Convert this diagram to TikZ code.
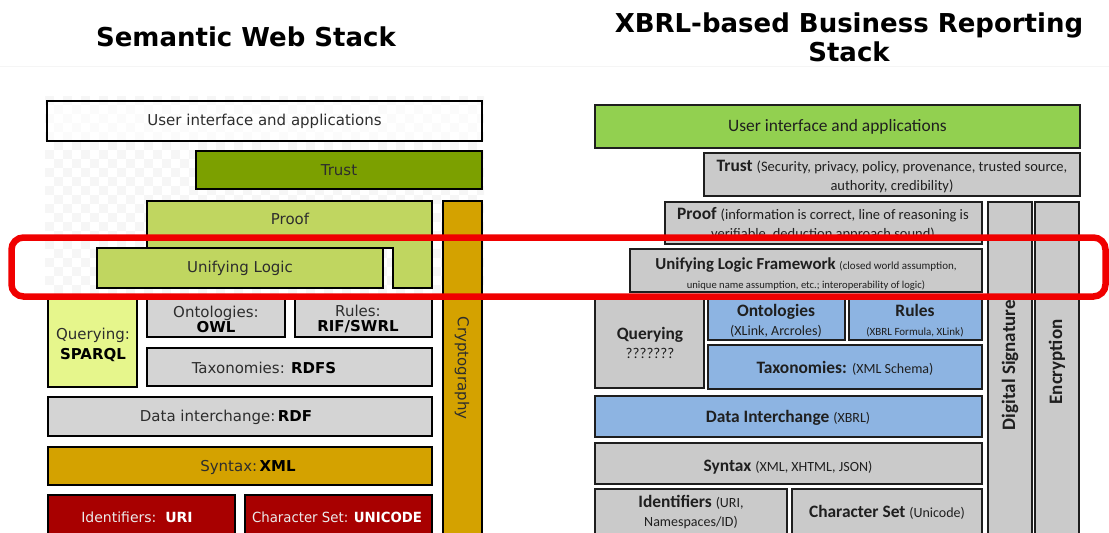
\documentclass[tikz,border=0pt]{standalone}
\usepackage{fontspec}
\setmainfont{DejaVu Sans}
\newfontfamily\calfont{Carlito}
\definecolor{trustgreen}{RGB}{124,160,0}
\definecolor{proofgreen}{RGB}{192,214,96}
\definecolor{queryyellow}{RGB}{230,246,140}
\definecolor{lgray}{RGB}{212,212,212}
\definecolor{gold}{RGB}{212,162,0}
\definecolor{dred}{RGB}{168,0,0}
\definecolor{uigreen}{RGB}{146,208,80}
\definecolor{rgray}{RGB}{202,202,202}
\definecolor{rblue}{RGB}{141,180,226}
\definecolor{redframe}{RGB}{240,0,0}
\definecolor{ltext}{RGB}{45,45,45}
\definecolor{rborder}{RGB}{30,30,30}
\newcommand\layer[6]{%
  \node[#6, anchor=north west, minimum width={(#4-#2)*1pt}, minimum height={(#5-#3)*1pt}] (#1) at (#2,#3) {};}
\newcommand\fs[2]{\fontsize{#1}{#2}\selectfont}
\tikzset{
  lbox/.style={draw=black, line width=2.8pt, inner sep=0pt, outer sep=0pt},
  rbox/.style={draw=rborder, line width=2.4pt, inner sep=0pt, outer sep=0pt},
  ltxt/.style={text=ltext, inner sep=0pt, font=\fs{15}{17}, align=center},
  rtxt/.style={text=black!88, inner sep=0pt, font=\calfont\fs{17.4}{19}, align=center},
  title/.style={inner sep=0pt, font=\bfseries\fs{26}{29}, align=center}
}
\begin{document}
\begin{tikzpicture}[x=1pt,y=-1pt]
\useasboundingbox (0,0) rectangle (1109,533);
\begin{scope}
\clip (0,0) rectangle (1109,533);
\draw[gray!8, line width=0.8pt] (0,66) -- (1109,66);
% titles
\node[title] (title1) at (246,37) {Semantic Web Stack};
\node[title] (title2) at (849,37.5) {XBRL-based Business Reporting\\Stack};
% checkered background (left)
\begin{scope}
\clip (45,96) rectangle (484,296);
\foreach \i in {0,...,24} {\foreach \j in {0,...,11} {
  \fill[gray!7] (45+18*\i,96+18*\j) rectangle ++(9,9);
  \fill[gray!7] (54+18*\i,105+18*\j) rectangle ++(9,9);
}}
\end{scope}
% ---------------- left stack ----------------
\layer{lui}{47}{101}{482}{141}{lbox, fill=white, fill opacity=0.6}
\layer{ltrust}{196}{151}{482}{189}{lbox, fill=trustgreen}
\draw[lbox, fill=proofgreen] (147,201) -- (432,201) -- (432,288) -- (393,288) -- (393,248) -- (147,248) -- cycle;
\coordinate (lproofc) at (290,219);
\layer{lunify}{97}{248}{383}{288}{lbox, fill=proofgreen}
\layer{lcrypto}{443}{201}{482}{545}{lbox, fill=gold}
\layer{lquery}{48}{298}{137}{387}{lbox, fill=queryyellow}
\layer{lonto}{147}{298}{285}{337}{lbox, fill=lgray}
\layer{lrules}{295}{298}{432}{337}{lbox, fill=lgray}
\layer{ltax}{147}{348}{432}{386}{lbox, fill=lgray}
\layer{lrdf}{48}{397}{432}{436}{lbox, fill=lgray}
\layer{lxml}{48}{447}{432}{485}{lbox, fill=gold}
\layer{luri}{48}{495}{235}{545}{lbox, fill=dred}
\layer{luni}{245}{495}{432}{545}{lbox, fill=dred}
\node[ltxt] (tlui) at (lui.center) {User interface and applications};
\node[ltxt] (tltrust) at (339,170) {Trust};
\node[ltxt] (tlproof) at (lproofc) {Proof};
\node[ltxt] (tlunify) at (240,268) {Unifying Logic};
\node[ltxt, font=\fs{15}{15}] (tlonto) at (216,319) {Ontologies:\\\textbf{\color{black}OWL}};
\node[ltxt, font=\fs{15}{15}] (tlrules) at (358,319) {Rules:\\\textbf{\color{black}RIF/SWRL}};
\node[ltxt, font=\fs{15}{20}] (tlquery) at (93,345) {Querying:\\\textbf{\color{black}SPARQL}};
\node[ltxt] (tltax) at (264,368) {Taxonomies: \textbf{\color{black}RDFS}};
\node[ltxt] (tlrdf) at (226,417) {Data interchange:\,\textbf{\color{black}RDF}};
\node[ltxt] (tlxml) at (248,467) {Syntax:\,\textbf{\color{black}XML}};
\node[ltxt, text=white!92!black, font=\fs{14}{16}] (tluri) at (137,517) {Identifiers:\ \ \textbf{\color{white}URI}};
\node[ltxt, text=white!92!black, font=\fs{14}{16}] (tluni) at (337,517) {\scalebox{0.95}[1]{Character Set: \textbf{\color{white}UNICODE}}};
\node[ltxt, rotate=-90] (tlcrypto) at (462,368) {Cryptography};
% ---------------- right stack ----------------
\layer{rui}{595}{105}{1080}{148}{rbox, fill=uigreen}
\layer{rtrust}{704}{153}{1080}{196}{rbox, fill=rgray}
\layer{rproof}{665}{202}{982}{244}{rbox, fill=rgray}
\layer{rsig}{988}{202}{1032}{545}{rbox, fill=rgray}
\layer{renc}{1035}{202}{1079}{545}{rbox, fill=rgray}
\layer{runify}{630}{249}{982}{292}{rbox, fill=rgray}
\layer{rquery}{595}{297}{704}{388}{rbox, fill=rgray}
\layer{ronto}{708}{297}{845}{340}{rbox, fill=rblue}
\layer{rrules}{849}{297}{982}{340}{rbox, fill=rblue}
\layer{rtax}{708}{345}{982}{389}{rbox, fill=rblue}
\layer{rdata}{595}{396}{982}{437}{rbox, fill=rblue}
\layer{rsyntax}{595}{443}{982}{484}{rbox, fill=rgray}
\layer{rid}{595}{489}{787}{545}{rbox, fill=rgray}
\layer{rchar}{792}{489}{982}{545}{rbox, fill=rgray}
\node[rtxt] (trui) at (rui.center) {User interface and applications};
\node[rtxt] (trtrust) at (892,176.5) {\fs{17.4}{21}\textbf{Trust} \fs{14.5}{21}(Security, privacy, policy, provenance, trusted source,\\\fs{14.5}{21}authority, credibility)};
\node[rtxt] (trproof) at (823,224) {\fs{17.4}{18}\textbf{Proof} \fs{14.5}{18}(information is correct, line of reasoning is\\\fs{14.5}{18}verifiable, deduction approach sound)};
\node[rtxt] (trunify) at (806,274) {\fs{16.8}{18}\textbf{Unifying Logic Framework} \fs{11}{18}(closed world assumption,\\\fs{10.6}{18}unique name assumption, etc.; interoperability of logic)};
\node[rtxt] (trquery) at (650,343) {\fs{17.4}{20}\textbf{Querying}\\\fs{15}{20}???????};
\node[rtxt] (tronto) at (776,321) {\fs{17.4}{18}\textbf{Ontologies}\\\fs{14}{18}(XLink, Arcroles)};
\node[rtxt] (trrules) at (915,321) {\fs{17.4}{18}\textbf{Rules}\\\fs{11}{18}(XBRL Formula, XLink)};
\node[rtxt] (trtax) at (845,368) {\textbf{Taxonomies:} \fs{14}{15}(XML Schema)};
\node[rtxt] (trdata) at (788,418) {\textbf{Data Interchange} \fs{14}{15}(XBRL)};
\node[rtxt] (trsyntax) at (788,467) {\textbf{Syntax} \fs{14}{15}(XML, XHTML,\ JSON)};
\node[rtxt] (trid) at (691,512.5) {\fs{17.4}{19}\textbf{Identifiers} \fs{14}{19}(URI,\\\fs{14}{19}Namespaces/ID)};
\node[rtxt] (trchar) at (887,512) {\textbf{Character Set} \fs{14}{15}(Unicode)};
\node[rtxt, rotate=90, font=\calfont\fs{19}{20}] (trsig) at (1010,365) {\textbf{Digital Signature}};
\node[rtxt, rotate=90, font=\calfont\fs{19}{20}] (trenc) at (1057,362) {\textbf{Encryption}};
% highlight frame
\draw[redframe, line width=6.5pt, rounded corners=12pt] (11.5,237.5) rectangle (1105.5,296.5);
\end{scope}
\end{tikzpicture}
\end{document}
